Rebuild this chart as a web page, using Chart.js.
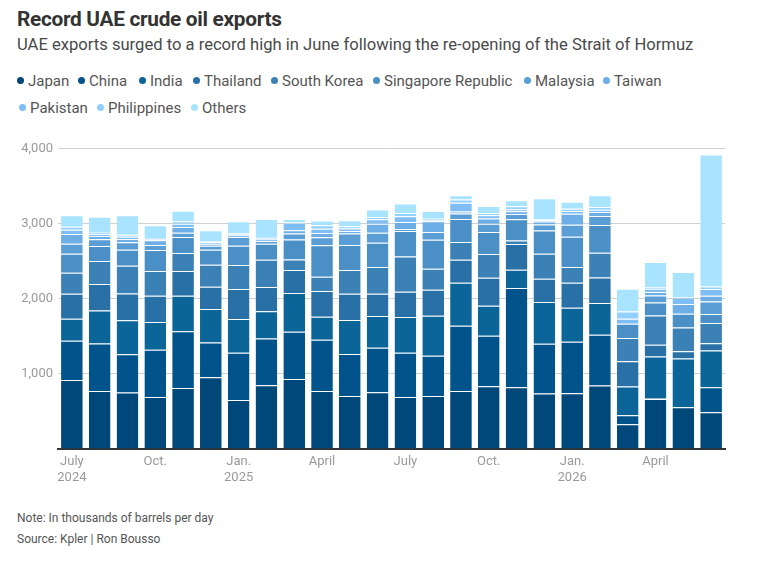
<!DOCTYPE html>
<html>
<head>
<meta charset="utf-8">
<script src="https://cdn.jsdelivr.net/npm/chart.js@4/dist/chart.umd.min.js"></script>
<style>
  body { margin: 0; width: 759px; height: 565px; background: #fff; font-family: Roboto, "Noto Sans", sans-serif; position: relative; overflow: hidden; }
  .title { position: absolute; left: 17px; top: 7px; font-size: 20.8px; font-weight: 700; color: #333; letter-spacing: -0.3px; }
  .subtitle { position: absolute; left: 17px; top: 35px; font-size: 16.6px; color: #4a4a4a; }
  .legend { position: absolute; left: 17px; width: 730px; font-size: 15px; color: #555; }
  .legend span.item { position: absolute; white-space: nowrap; }
  .legend i { display: inline-block; width: 7px; height: 7px; border-radius: 50%; margin-right: 4px; vertical-align: 2px; }
  .note { position: absolute; left: 17px; font-size: 12px; color: #555; }
  #wrap { position: absolute; left: 0; top: 130px; width: 759px; height: 370px; }
</style>
</head>
<body>
<div class="title">Record UAE crude oil exports</div>
<div class="subtitle">UAE exports surged to a record high in June following the re-opening of the Strait of Hormuz</div>
<div class="legend" id="legend"></div>
<div id="wrap"><canvas id="chart"></canvas></div>
<div class="note" style="top:511px">Note: In thousands of barrels per day</div>
<div class="note" style="top:532px">Source: Kpler | Ron Bousso</div>
<script>
// months Jul 2024 .. Jun 2026, thousand bpd
const months = ['Jul 2024','Aug 2024','Sep 2024','Oct 2024','Nov 2024','Dec 2024','Jan 2025','Feb 2025','Mar 2025','Apr 2025','May 2025','Jun 2025',
                'Jul 2025','Aug 2025','Sep 2025','Oct 2025','Nov 2025','Dec 2025','Jan 2026','Feb 2026','Mar 2026','Apr 2026','May 2026','Jun 2026'];
const monthTicks = ['July','','','Oct.','','','Jan.','','','April','','','July','','','Oct.','','','Jan.','','','April','',''];
const yearTicks  = ['2024','','','','','','2025','','','','','','','','','','','','2026','','','','',''];

const japan       = [920,773,751,693,813,956,653,849,933,773,707,756,693,707,773,836,822,738,742,844,329,667,556,489];
const china       = [520,631,511,627,756,462,627,622,627,680,556,591,587,533,867,671,1320,662,684,676,120,10,0,333];
const india       = [293,440,453,369,471,444,449,364,516,307,453,422,476,533,573,400,244,556,453,422,382,554,648,489];
const thailand    = [333,351,356,351,329,298,400,320,307,342,351,298,338,347,307,373,342,311,333,342,338,156,98,98];
const southKorea  = [280,307,369,329,240,293,320,364,138,191,316,356,467,280,236,316,49,333,209,329,307,391,316,267];
const singapore   = [253,200,213,280,213,200,258,213,267,418,333,324,342,387,307,293,280,307,404,369,191,173,182,120];
const malaysia    = [133,89,98,67,58,53,116,36,80,107,151,133,27,102,71,111,71,80,160,120,0,93,0,168];
const taiwan      = [129,44,44,62,76,27,20,22,44,58,36,120,93,142,27,67,36,40,147,53,0,45,129,76];
const pakistan    = [58,27,31,15,44,18,12,18,100,57,31,58,76,13,116,44,27,18,36,31,66,45,89,89];
const philippines = [40,18,27,15,31,18,12,13,5,45,31,31,44,22,44,31,40,13,31,36,98,15,0,35];
const others      = [151,213,258,170,142,142,164,240,44,62,80,98,124,102,58,93,80,280,93,156,302,340,338,1756];

const seriesNames  = ['Japan','China','India','Thailand','South Korea','Singapore Republic','Malaysia','Taiwan','Pakistan','Philippines','Others'];
const seriesData   = [japan,china,india,thailand,southKorea,singapore,malaysia,taiwan,pakistan,philippines,others];
const seriesColors = ['#00477a','#00548b','#0c6599','#2870a6','#3b81b6','#4a8fc6','#5b9ed6','#6caee5','#7ebef5','#92d0ff','#a8e4ff'];

// html legend, two rows like the original
const legendPos = [[0,0],[61,0],[122,0],[176,0],[254,0],[356,0],[507,0],[586,0],[2,1],[80,1],[174,1]];
const legend = document.getElementById('legend');
seriesNames.forEach((name, i) => {
    const s = document.createElement('span');
    s.className = 'item';
    s.style.left = legendPos[i][0] + 'px';
    s.style.top = (72 + legendPos[i][1] * 27) + 'px';
    s.innerHTML = '<i style="background:' + seriesColors[i] + '"></i>' + name;
    legend.appendChild(s);
});
legend.style.top = '0px';

new Chart(document.getElementById('chart'), {
    type: 'bar',
    data: {
        labels: months,
        datasets: seriesNames.map((name, i) => ({
            label: name,
            data: seriesData[i],
            backgroundColor: seriesColors[i],
            borderColor: 'rgba(255,255,255,0.35)',
            borderWidth: { top: 1, left: 0, right: 0, bottom: 0 },
            borderSkipped: false,
            barPercentage: 0.78,
            categoryPercentage: 1
        }))
    },
    options: {
        responsive: true,
        maintainAspectRatio: false,
        animation: false,
        layout: { padding: { top: 18.5, right: 34, left: 0, bottom: 0 } },
        plugins: {
            legend: { display: false },
            tooltip: { enabled: false }
        },
        scales: {
            x: {
                stacked: true,
                grid: { display: false, drawTicks: false },
                border: { display: true, color: '#333', width: 2 },
                ticks: {
                    autoSkip: false,
                    maxRotation: 0,
                    padding: 5,
                    color: '#9a9a9a',
                    font: { family: 'Roboto', size: 13 },
                    callback: function(value, index) {
                        if (!monthTicks[index]) return '';
                        return yearTicks[index] ? [monthTicks[index], yearTicks[index]] : monthTicks[index];
                    }
                },
                afterFit: function(scale) { scale.height = 51; }
            },
            y: {
                stacked: true,
                min: 0,
                max: 4000,
                grid: { color: '#d0d0d0', drawTicks: false },
                border: { display: false },
                ticks: {
                    stepSize: 1000,
                    padding: 5,
                    color: '#9a9a9a',
                    font: { family: 'Roboto', size: 13 },
                    callback: function(value) { return value === 0 ? '' : value.toLocaleString('en-US'); }
                },
                afterFit: function(scale) { scale.width = 58; }
            }
        }
    }
});
</script>
</body>
</html>
